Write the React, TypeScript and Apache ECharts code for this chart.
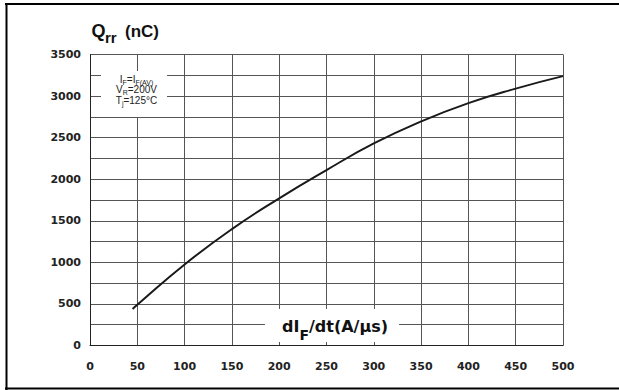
import React, { useEffect, useRef } from "react";
import * as echarts from "echarts";

// dI_F/dt (A/µs)
const xValues = [45, 50, 100, 150, 200, 250, 300, 350, 400, 450, 500];
// Q_rr (nC)
const qrrValues = [440, 490, 975, 1400, 1770, 2110, 2430, 2695, 2915, 3090, 3240];
const xTickInterval = 50;
const yGridInterval = 250;
const yLabelStep = 500;

const BOLD = "DejaVu Sans";
const SANS = "Liberation Sans";

export default function App() {
  const ref = useRef<HTMLDivElement>(null);
  useEffect(() => {
    document.body.style.margin = "0";
    const chart = echarts.init(ref.current!, null, { renderer: "svg" });
    const data = xValues.map((x, i) => [x, qrrValues[i]]);
    const condRich = {
      a: { fontFamily: SANS, fontSize: 10, lineHeight: 11, verticalAlign: "top", fill: "#222" },
      s: { fontFamily: SANS, fontSize: 7, lineHeight: 11, padding: [4.5, 0, 0, 0], verticalAlign: "top", fill: "#222" },
    };
    const condLines = [
      "{a|I}{s|F}{a|=I}{s|F(AV)}",
      "{a|V}{s|R}{a|=200V}",
      "{a|T}{s|j}{a|=125°C}",
    ];
    chart.setOption({
      animation: false,
      backgroundColor: "#fff",
      grid: { left: 90, right: 56, top: 54.5, bottom: 44.5, containLabel: false },
      xAxis: {
        type: "value",
        min: 0,
        max: 500,
        interval: xTickInterval,
        axisLine: { show: true, lineStyle: { color: "#222", width: 1 } },
        axisTick: { show: false },
        splitLine: { show: true, lineStyle: { color: "#555", width: 1 } },
        axisLabel: {
          margin: 15,
          fontFamily: BOLD,
          fontWeight: "bold",
          fontSize: 11,
          color: "#222",
        },
      },
      yAxis: {
        type: "value",
        min: 0,
        max: 3500,
        interval: yGridInterval,
        axisLine: { show: true, lineStyle: { color: "#222", width: 1 } },
        axisTick: { show: false },
        splitLine: { show: true, lineStyle: { color: "#555", width: 1 } },
        axisLabel: {
          margin: 9,
          fontFamily: BOLD,
          fontWeight: "bold",
          fontSize: 11,
          color: "#222",
          formatter: (v: number) => (v % yLabelStep === 0 ? String(v) : ""),
        },
      },
      series: [
        {
          type: "line",
          data,
          smooth: true,
          symbol: "none",
          lineStyle: { color: "#1a1a1a", width: 2 },
          z: 5,
        },
      ],
      graphic: [
        // outer frame
        { type: "line", z: 200, shape: { x1: 5, y1: 4, x2: 619, y2: 4 }, style: { stroke: "#000", lineWidth: 2 } },
        { type: "line", z: 200, shape: { x1: 6.5, y1: 3, x2: 6.5, y2: 390 }, style: { stroke: "#000", lineWidth: 2 } },
        { type: "line", z: 200, shape: { x1: 5, y1: 388.5, x2: 619, y2: 388.5 }, style: { stroke: "#000", lineWidth: 2 } },
        // title
        {
          type: "text", z: 200, x: 91.5, y: 31,
          style: { text: "Q", font: `bold 18px "${SANS}"`, fill: "#111", verticalAlign: "middle" },
        },
        {
          type: "text", z: 200, x: 105, y: 37,
          style: { text: "rr", font: `bold 15px "${SANS}"`, fill: "#111", verticalAlign: "middle" },
        },
        {
          type: "text", z: 200, x: 125, y: 31,
          style: { text: "(nC)", font: `bold 17px "${SANS}"`, fill: "#111", verticalAlign: "middle" },
        },
        // conditions box
        { type: "rect", z: 150, shape: { x: 101, y: 71, width: 66, height: 46 }, style: { fill: "#fff" } },
        ...condLines.map((t, i) => ({
          type: "text", z: 200, x: 136.5, y: 74 + i * 10.8,
          style: { text: t, align: "center", verticalAlign: "top", fill: "#222", rich: condRich },
        })),
        // x-axis name box
        { type: "rect", z: 150, shape: { x: 265, y: 309, width: 134, height: 33 }, style: { fill: "#fff" } },
        {
          type: "text", z: 200, x: 282, y: 318,
          style: {
            text: "{a|dI}{s|F}{a|/dt(A/µs)}",
            verticalAlign: "top",
            fill: "#111",
            rich: {
              a: { fontFamily: BOLD, fontWeight: "bold", fontSize: 16, lineHeight: 20, verticalAlign: "top", fill: "#111" },
              s: { fontFamily: BOLD, fontWeight: "bold", fontSize: 14, lineHeight: 20, padding: [10, 0, 0, 0], verticalAlign: "top", fill: "#111" },
            },
          },
        },
      ],
    });
    return () => chart.dispose();
  }, []);
  return <div ref={ref} style={{ width: 619, height: 390 }} />;
}
